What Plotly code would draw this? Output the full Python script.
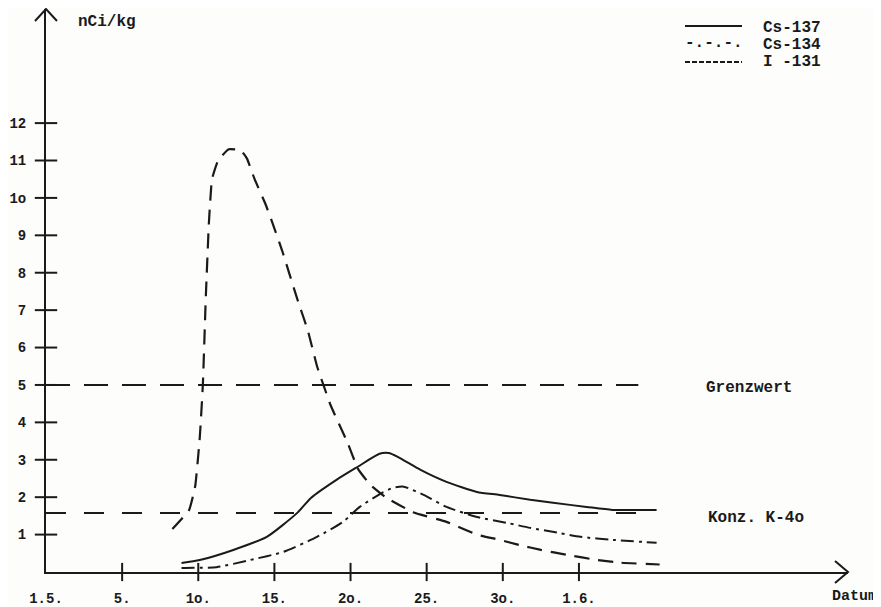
import plotly.graph_objects as go

# ---- data (day of May; 1.6. drawn at position 35) ----
X_TICKS = [0, 5, 10, 15, 20, 25, 30, 35]
X_LABELS = ["1.5.", "5.", "1o.", "15.", "2o.", "25.", "3o.", "1.6."]
Y_TICKS = [1, 2, 3, 4, 5, 6, 7, 8, 9, 10, 11, 12]
Y_LABELS = ["1", "2", "3", "4", "5", "6", "7", "8", "9", "1o", "11", "12"]

I131_DAY = [8.3, 9.4, 9.8, 10.1, 10.3, 10.5, 10.7, 10.9, 11.3, 12.0, 12.8, 13.2, 13.7,
            14.4, 14.9, 15.5, 16.5, 17.2, 17.8, 18.7, 19.8, 20.5, 21.3, 22.3, 24.1,
            26.3, 28.3, 29.8, 31.1, 32.5, 34.2, 36.2, 37.7, 40.3]
I131 = [1.15, 1.66, 2.3, 3.6, 5.0, 7.4, 9.35, 10.5, 11.0, 11.3, 11.27, 11.05, 10.5,
        9.85, 9.3, 8.6, 7.3, 6.45, 5.5, 4.45, 3.46, 2.75, 2.33, 2.0, 1.6,
        1.34, 1.0, 0.86, 0.72, 0.59, 0.46, 0.32, 0.25, 0.2]

CS137_DAY = [8.9, 10.1, 12.3, 14.5, 16.5, 17.4, 19.1, 20.5, 21.9, 22.5, 23.1, 24.6,
             26.3, 28.3, 29.8, 31.8, 33.3, 35.5, 37.2, 40.1]
CS137 = [0.24, 0.32, 0.59, 0.94, 1.58, 1.98, 2.47, 2.82, 3.16, 3.18, 3.08, 2.73,
         2.41, 2.14, 2.06, 1.93, 1.85, 1.74, 1.66, 1.66]

CS134_DAY = [8.9, 11.2, 13.4, 15.6, 17.8, 19.5, 20.6, 22.1, 22.8, 23.5, 24.8, 26.3,
             28.3, 30.3, 31.8, 33.6, 35.1, 37.2, 40.1]
CS134 = [0.11, 0.13, 0.32, 0.54, 0.94, 1.34, 1.74, 2.12, 2.25, 2.28, 2.06, 1.74,
         1.47, 1.31, 1.18, 1.05, 0.94, 0.86, 0.78]

REF_X = [0, 38.9]
GRENZWERT = 5.0
K40 = 1.58

INK = "#1a1a1a"
FONT = "Liberation Mono"

# the page body has an 8px default margin: the figure is sized to fill the rest
OFF = 8
W, H = 881 - OFF, 607 - OFF
L, R, T, B = 46 - OFF, 33, 9 - OFF, 35
PW, PH = W - L - R, H - T - B


def px(x):
    """window x (pixels) -> paper x"""
    return (x - OFF - L) / PW


def py(y):
    """window y (pixels) -> paper y"""
    return (H - B - (y - OFF)) / PH


fig = go.Figure()

fig.add_trace(go.Scatter(x=REF_X, y=[GRENZWERT, GRENZWERT], mode="lines",
                         line=dict(color=INK, width=2, dash="24px,14px"), hoverinfo="skip"))
fig.add_trace(go.Scatter(x=REF_X, y=[K40, K40], mode="lines",
                         line=dict(color=INK, width=2, dash="20px,18px"), hoverinfo="skip"))
fig.add_trace(go.Scatter(x=CS137_DAY, y=CS137, mode="lines", name="Cs-137",
                         line=dict(color=INK, width=2, shape="spline", smoothing=0.6)))
fig.add_trace(go.Scatter(x=CS134_DAY, y=CS134, mode="lines", name="Cs-134",
                         line=dict(color=INK, width=2, shape="spline", smoothing=0.6,
                                   dash="13px,5px,3px,5px")))
fig.add_trace(go.Scatter(x=I131_DAY, y=I131, mode="lines", name="I -131",
                         line=dict(color=INK, width=2.2, shape="spline", smoothing=0.35,
                                   dash="15px,9px")))

# tick marks crossing the axes
fig.add_trace(go.Scatter(x=[0] * len(Y_TICKS), y=Y_TICKS, mode="markers", cliponaxis=False,
                         marker=dict(symbol="line-ew", size=16,
                                     line=dict(color=INK, width=2)), hoverinfo="skip"))
fig.add_trace(go.Scatter(x=X_TICKS[1:], y=[0] * (len(X_TICKS) - 1), mode="markers",
                         cliponaxis=False,
                         marker=dict(symbol="line-ns", size=13,
                                     line=dict(color=INK, width=2)), hoverinfo="skip"))

axis_common = dict(showgrid=False, zeroline=False, showline=True, linecolor=INK,
                   linewidth=2, ticks="", automargin=False,
                   tickfont=dict(family=FONT, size=14, color=INK), tickmode="array")

fig.update_xaxes(range=[0, 52.67], tickvals=X_TICKS,
                 ticktext=[f"<b>{t}</b>" for t in X_LABELS], ticklabelstandoff=12,
                 **axis_common)
fig.update_yaxes(range=[0, 15.05], tickvals=Y_TICKS,
                 ticktext=[f"<b>{t}</b>" for t in Y_LABELS], ticklabelstandoff=15,
                 **axis_common)

shapes = [
    # axis arrowheads
    dict(type="path", xref="paper", yref="paper",
         path=f"M {px(835)} {py(561)} L {px(848)} {py(572)} L {px(835)} {py(583)}",
         line=dict(color=INK, width=2)),
    dict(type="path", xref="paper", yref="paper",
         path=f"M {px(35)} {py(21)} L {px(46)} {py(9)} L {px(57)} {py(21)}",
         line=dict(color=INK, width=2)),
    # legend samples
    dict(type="line", xref="paper", yref="paper", x0=px(685), x1=px(742),
         y0=py(26), y1=py(26), line=dict(color=INK, width=2)),
    dict(type="line", xref="paper", yref="paper", x0=px(685), x1=px(742),
         y0=py(62), y1=py(62), line=dict(color=INK, width=2, dash="5px,2px")),
]
fig.update_layout(shapes=shapes)


def txt(s, x, y, size=16, anchor="left"):
    fig.add_annotation(text=s, x=px(x), y=py(y), xref="paper", yref="paper",
                       xanchor=anchor, yanchor="middle", showarrow=False,
                       font=dict(family=FONT, size=size, color=INK))


txt("<b>nCi/kg</b>", 76, 22)
txt("<b>Grenzwert</b>", 704, 388)
txt("<b>Konz. K-4o</b>", 706, 518)
txt("<b>Datum</b>", 879, 596, size=15, anchor="right")
txt("<b>Cs-137</b>", 761, 28)
txt("<b>Cs-134</b>", 761, 45)
txt("<b>I -131</b>", 761, 62)
txt("<b>-.-.-.</b>", 683, 43)

fig.update_layout(width=W, height=H, margin=dict(l=L, r=R, t=T, b=B),
                  paper_bgcolor="#fdfdfc", plot_bgcolor="#fdfdfc",
                  showlegend=False)

fig.write_html("out.html")
